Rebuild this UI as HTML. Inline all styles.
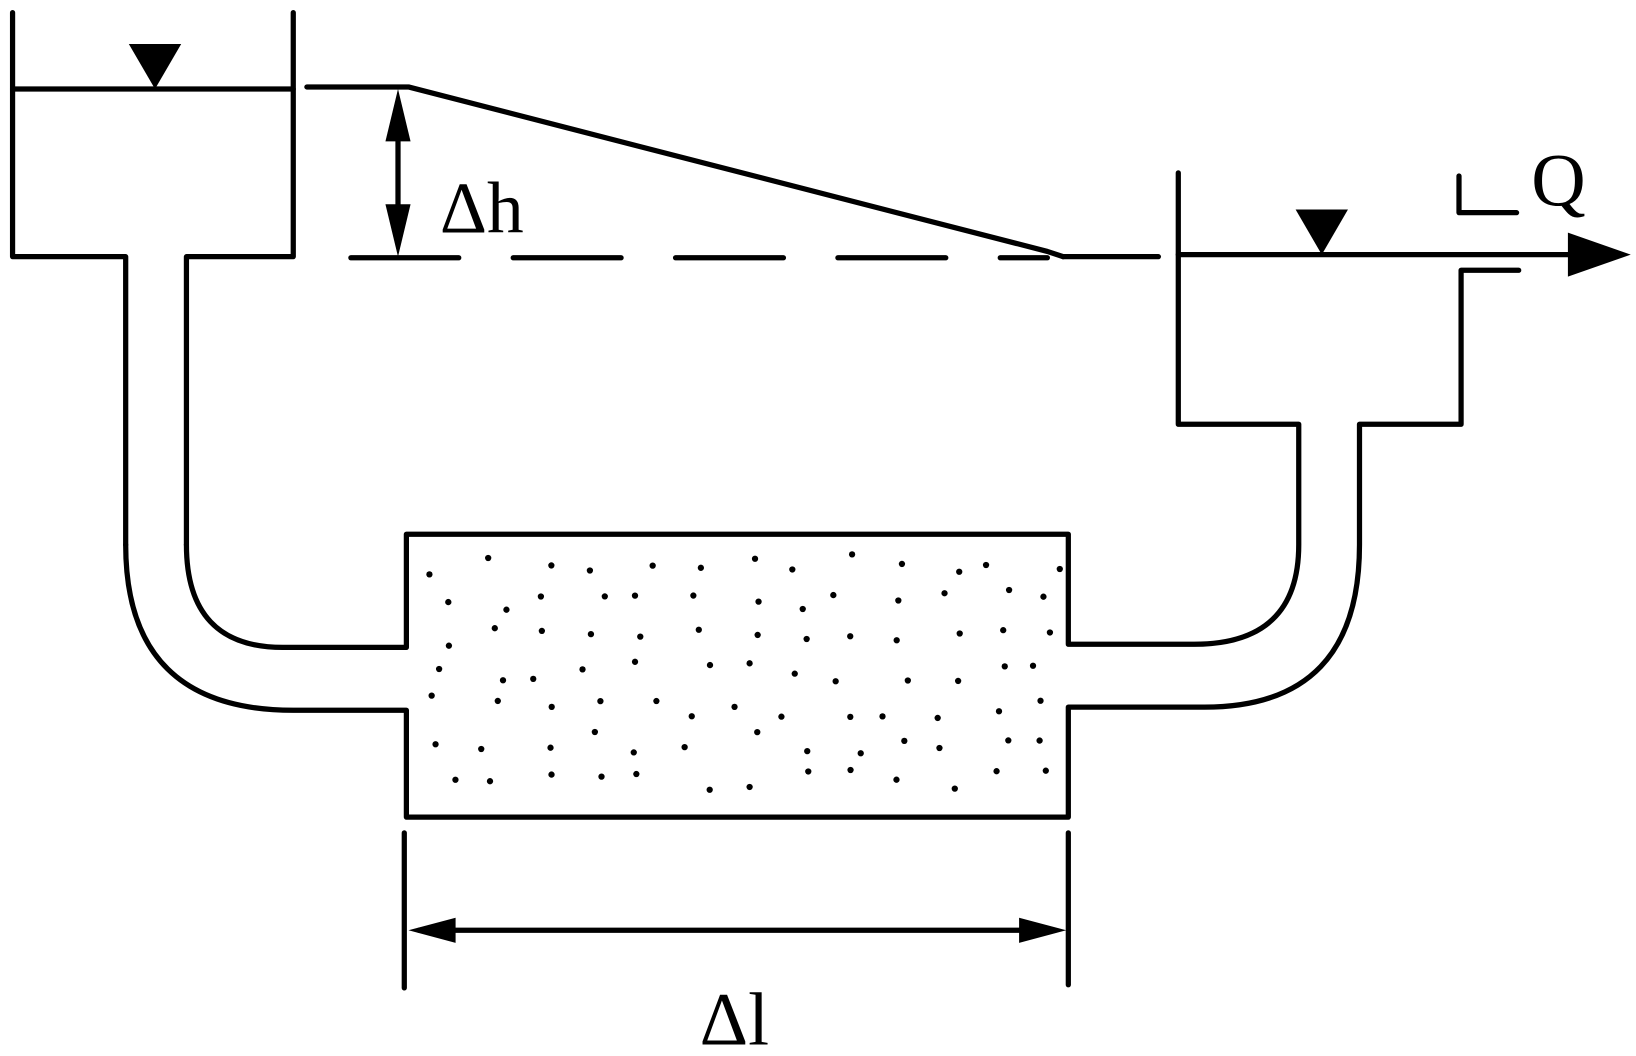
<!DOCTYPE html>
<html><head><meta charset="utf-8"><style>
html,body{margin:0;padding:0;background:#fff;}
svg{display:block;}
text{font-family:"Liberation Serif",serif;fill:#000;}
</style></head><body>
<svg id="s" width="1636" height="1056" viewBox="0 0 1562 1008" preserveAspectRatio="none" xmlns="http://www.w3.org/2000/svg">
<g fill="none" stroke="#000" stroke-width="5" stroke-linecap="round" stroke-linejoin="round">
<polyline points="12,12 12,245 120,245 120,520"/>
<polyline points="280,12 280,245 178,245 178,520"/>
<line x1="12" y1="85" x2="280" y2="85"/>
<path d="M120,520 Q120,678 280,678 L388,678 L388,780 L1020,780 L1020,675 L1150,675 Q1298,675 1298,520 L1298,405 L1395,405 L1395,258 L1450,258"/>
<path d="M178,520 Q178,618 270,618 L388,618 L388,510 L1020,510 L1020,615 L1140,615 Q1240,615 1240,520 L1240,405 L1125,405 L1125,165"/>
<line x1="1125" y1="243" x2="1510" y2="243"/>
<line x1="1015" y1="245" x2="1106" y2="245"/>
<polyline points="1393,168 1393,203 1448,203"/>
<polyline points="293,83 390,83 1000,240 1015,245"/>
<line x1="335" y1="246" x2="1000" y2="246" stroke-dasharray="103,52"/>
<line x1="380" y1="100" x2="380" y2="230"/>
<line x1="386" y1="795" x2="386" y2="943"/>
<line x1="1020" y1="795" x2="1020" y2="940"/>
<line x1="400" y1="888" x2="1005" y2="888"/>
</g>
<g fill="#000">
<polygon points="123,42 173,42 148,85"/>
<polygon points="1237,200 1287,200 1262,243"/>
<polygon points="1497,222 1557,243 1497,264"/>
<polygon points="380,85 368,135 392,135"/>
<polygon points="380,245 368,195 392,195"/>
<polygon points="390,888 435,876 435,900"/>
<polygon points="1018,888 973,876 973,900"/>
</g>
<text x="420" y="222" font-size="70">Δh</text>
<text x="1462" y="196" font-size="72">Q</text>
<text x="668" y="997" font-size="72">Δl</text>
<g id="dots" fill="#000"></g>
</svg>
<script>
var g=document.getElementById('dots'),seed=7;
function r(){seed=(seed*16807)%2147483647;return seed/2147483647;}
for(var y=528;y<750;y+=34){for(var x=410;x<1000;x+=48){
var c=document.createElementNS('http://www.w3.org/2000/svg','circle');
c.setAttribute('cx',x+r()*28);c.setAttribute('cy',y+r()*22);c.setAttribute('r',3);g.appendChild(c);}}
</script>
</body></html>
